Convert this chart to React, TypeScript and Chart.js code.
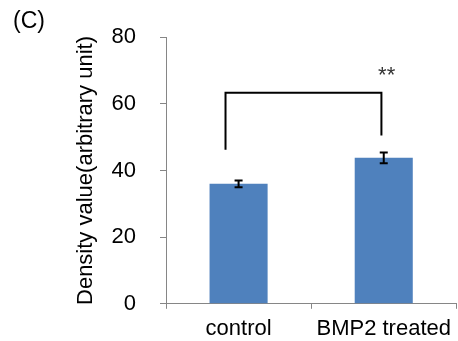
import React, { useEffect, useRef } from 'react';
import { Chart, registerables } from 'chart.js';

Chart.register(...registerables);

const categories = ['control', 'BMP2 treated'];
const densityValues = [36.0, 43.8];
const errorValues = [1.0, 1.6];
const yTicks = [0, 20, 40, 60, 80];
const bracketLegX = [-0.09, 0.984];
const bracketLegBottom = [46.2, 50.5];
const bracketTop = 63.3;
const sigLabel = '**';
const sigPosition = [1.02, 66.5];
const panelLabel = '(C)';
const yTitle = 'Density value(arbitrary unit)';

const FONT = "'Liberation Sans', Arial, sans-serif";

const overlay = {
  id: 'overlay',
  afterDatasetsDraw(chart: any) {
    const { ctx, scales } = chart;
    const x = scales.x;
    const y = scales.y;
    ctx.save();
    ctx.strokeStyle = '#000';
    ctx.lineWidth = 2;
    densityValues.forEach((v, i) => {
      const px = x.getPixelForValue(i);
      const top = y.getPixelForValue(v + errorValues[i]);
      const bot = y.getPixelForValue(v - errorValues[i]);
      ctx.beginPath();
      ctx.moveTo(px, top);
      ctx.lineTo(px, bot);
      ctx.moveTo(px - 4, top);
      ctx.lineTo(px + 4, top);
      ctx.moveTo(px - 4, bot);
      ctx.lineTo(px + 4, bot);
      ctx.stroke();
    });
    // significance bracket
    const lx = x.getPixelForValue(bracketLegX[0]);
    const rx = x.getPixelForValue(bracketLegX[1]);
    const ty = y.getPixelForValue(bracketTop);
    ctx.beginPath();
    ctx.moveTo(lx, y.getPixelForValue(bracketLegBottom[0]));
    ctx.lineTo(lx, ty);
    ctx.lineTo(rx, ty);
    ctx.lineTo(rx, y.getPixelForValue(bracketLegBottom[1]));
    ctx.stroke();
    // significance label
    ctx.fillStyle = '#333';
    ctx.font = `22px ${FONT}`;
    ctx.textAlign = 'center';
    ctx.textBaseline = 'alphabetic';
    ctx.fillText(sigLabel, x.getPixelForValue(sigPosition[0]), y.getPixelForValue(sigPosition[1]));
    // panel label
    ctx.fillStyle = '#000';
    ctx.font = `23px ${FONT}`;
    ctx.textAlign = 'left';
    ctx.textBaseline = 'top';
    ctx.fillText(panelLabel, 13, 10);
    ctx.restore();
  },
};

export default function App() {
  const ref = useRef<HTMLCanvasElement>(null);
  useEffect(() => {
    if (!ref.current) return;
    const chart = new Chart(ref.current, {
      type: 'bar',
      data: {
        labels: categories,
        datasets: [
          {
            data: densityValues,
            backgroundColor: '#4F81BD',
            borderWidth: 0,
            categoryPercentage: 1,
            barPercentage: 0.4,
          },
        ],
      },
      options: {
        animation: false,
        responsive: false,
        layout: { padding: { top: 34, right: 0, bottom: 0, left: 0 } },
        plugins: { legend: { display: false }, tooltip: { enabled: false } },
        scales: {
          x: {
            offset: true,
            grid: {
              offset: true,
              drawOnChartArea: false,
              drawTicks: true,
              tickLength: 5,
              color: '#868686',
            },
            border: { display: true, color: '#868686', width: 1 },
            ticks: {
              color: '#000',
              font: { family: FONT, size: 22 },
              padding: 7,
              maxRotation: 0,
            },
            afterFit: (s: any) => {
              s.height = 35;
            },
          },
          y: {
            min: yTicks[0],
            max: yTicks[yTicks.length - 1],
            afterBuildTicks: (s: any) => {
              s.ticks = yTicks.map((v) => ({ value: v }));
            },
            grid: {
              drawOnChartArea: false,
              drawTicks: true,
              tickLength: 6,
              color: '#868686',
            },
            border: { display: true, color: '#868686', width: 1 },
            ticks: {
              color: '#000',
              font: { family: FONT, size: 22 },
              padding: 24,
            },
            title: {
              display: true,
              text: yTitle,
              color: '#000',
              font: { family: FONT, size: 22 },
              padding: { top: 73, bottom: 0 },
            },
            afterFit: (s: any) => {
              s.width = 166;
            },
          },
        },
      },
      plugins: [overlay],
    });
    return () => chart.destroy();
  }, []);
  return (
    <div style={{ position: 'fixed', left: 0, top: 0, width: 458, height: 341, background: '#fff' }}>
      <canvas ref={ref} width={458} height={341} style={{ width: 458, height: 341, display: 'block' }} />
    </div>
  );
}
